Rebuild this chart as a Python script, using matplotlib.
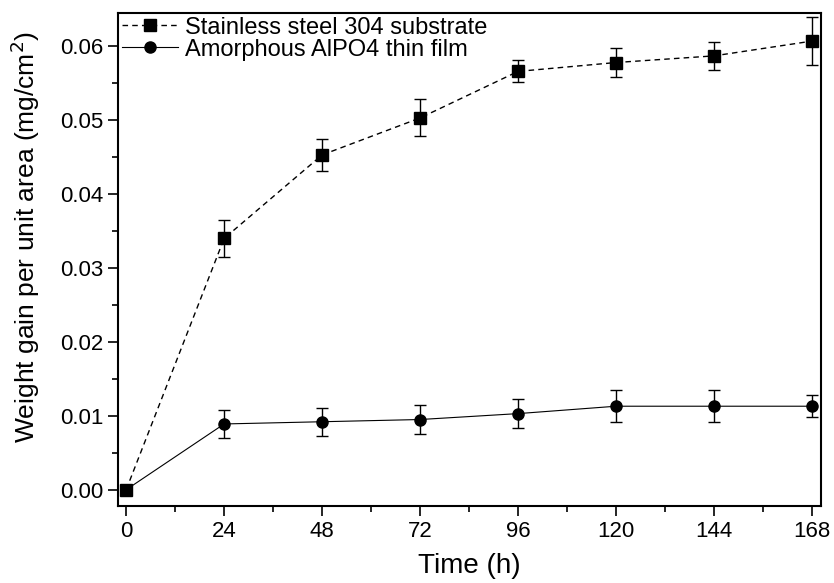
import numpy as np
import matplotlib.pyplot as plt
from matplotlib.ticker import MultipleLocator

plt.rcParams['font.family'] = ['Liberation Sans', 'DejaVu Sans']

time_h = [0, 24, 48, 72, 96, 120, 144, 168]
steel = [0.0, 0.0340, 0.0453, 0.0503, 0.0566, 0.0578, 0.0587, 0.0607]
steel_err = [0.0, 0.0025, 0.0022, 0.0025, 0.0015, 0.0019, 0.0019, 0.0033]
film = [0.0, 0.0089, 0.0092, 0.0095, 0.0103, 0.0113, 0.0113, 0.0113]
film_err = [0.0, 0.0019, 0.0019, 0.0020, 0.0020, 0.0022, 0.0022, 0.0015]

fig = plt.figure(figsize=(8.34, 5.83), dpi=100)
ax = fig.add_axes([118/834, 1 - 506/583, (821 - 118)/834, (506 - 13)/583])

eb1 = ax.errorbar(time_h, steel, yerr=steel_err, fmt='s', ls='--', color='black',
                  lw=1, ms=8, capsize=4, elinewidth=1, capthick=1,
                  dashes=(4, 3))
eb2 = ax.errorbar(time_h, film, yerr=film_err, fmt='o', ls='-', color='black',
                  lw=0.8, ms=8, capsize=4, elinewidth=1, capthick=1)

ax.set_xlim(-2, 170.2)
ax.set_ylim(-0.0022, 0.0645)
ax.set_xticks(time_h)
ax.xaxis.set_minor_locator(MultipleLocator(12))
ax.yaxis.set_major_locator(MultipleLocator(0.01))
ax.yaxis.set_minor_locator(MultipleLocator(0.005))
ax.yaxis.set_major_formatter(plt.FormatStrFormatter('%.2f'))
ax.tick_params(which='major', direction='out', length=7, width=1.2, labelsize=16)
ax.tick_params(which='minor', direction='out', length=4, width=1.2)
for s in ax.spines.values():
    s.set_linewidth(1.5)

ax.set_xlabel('Time (h)', fontsize=20)
ax.xaxis.set_label_coords(0.5, -0.095)
ax.set_ylabel('Weight gain per unit area (mg/cm$^2$)', fontsize=19)
ax.yaxis.set_label_coords(-0.108, 0.546)

ax.legend([eb1[0], eb2[0]],
          ['Stainless steel 304 substrate', 'Amorphous AlPO4 thin film'],
          loc='upper left', frameon=False, fontsize=17, handlelength=2.4,
          borderaxespad=0.05, labelspacing=0.0, handletextpad=0.3,
          borderpad=0.1)

fig.savefig('out.png', dpi=100)
